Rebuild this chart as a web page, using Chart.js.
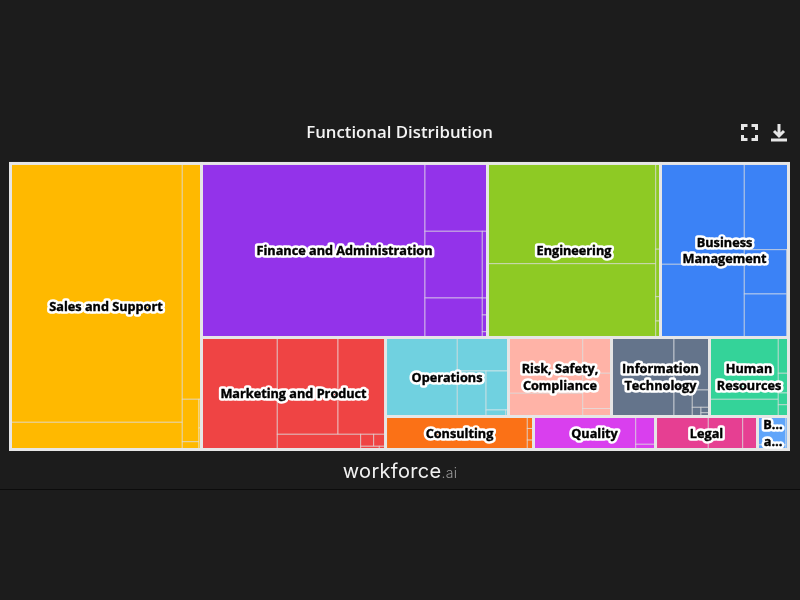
<!DOCTYPE html>
<html>
<head>
<meta charset="utf-8">
<title>Functional Distribution</title>
<script src="https://cdn.jsdelivr.net/npm/chart.js@4"></script>
<style>
	html, body { margin: 0; background: #1c1c1c; }
	#wrap { position: relative; width: 800px; height: 600px; overflow: hidden; }
	#icons { position: absolute; left: 740px; top: 123px; }
	#brand { position: absolute; left: 0; width: 800px; top: 459px; text-align: center; color: #f2f2f2; font: 400 20px Inter, sans-serif; letter-spacing: .3px; }
	#brand span { color: #9a9a9a; font-size: 14px; font-weight: 300; }
	#rule { position: absolute; left: 0; width: 800px; top: 489px; height: 1px; background: #0c0c0c; }
</style>
</head>
<body>
<div id="wrap">
	<canvas id="treeChart" width="800" height="600"></canvas>
	<svg id="icons" width="50" height="20" fill="none" stroke="#e6e6e6" stroke-width="3">
		<path d="M2.5 7V2.5H7.5M11.5 2.5H16.5V7M16.5 12V16.5H11.5M7.5 16.5H2.5V12"/>
		<path d="M39 1V12M34 8L39 13L44 8M31 17H47"/>
	</svg>
	<div id="brand">workforce<span>.ai</span></div>
	<div id="rule"></div>
</div>
<script>
const groupNames = ['Sales and Support', 'Finance and Administration', 'Engineering', 'Business\nManagement', 'Marketing and Product', 'Operations', 'Risk, Safety,\nCompliance', 'Information\nTechnology', 'Human\nResources', 'Consulting', 'Quality', 'Legal', 'B…\na…'];
const groupColors = ['#ffb900', '#9333ea', '#8eca24', '#3b82f6', '#ef4444', '#70d1e0', '#ffb3a7', '#64748b', '#34d399', '#fb7116', '#d93fee', '#e63f92', '#60a5fa'];

const salesValues = [44462, 4673, 4527, 708, 130, 72, 54];
const financeValues = [38889, 4238, 3822, 2263, 347, 88, 87, 30];
const engineeringValues = [16854, 12413, 412, 228, 117, 79];
const businessValues = [8447, 6134, 3810, 1878, 1844, 158];
const marketingValues = [8490, 5876, 4598, 1268, 156, 142, 60, 20];
const operationsValues = [5672, 1715, 1310, 874, 127, 18];
const riskValues = [4140, 1721, 1031, 979, 222, 43];
const itValues = [4938, 1864, 485, 298, 80, 46, 32];
const hrValues = [4252, 1183, 365, 201, 120, 120];
const consultingValues = [4679, 74, 72, 58];
const qualityValues = [3373, 550, 103];
const legalValues = [1742, 1135, 488];
const otherValues = [808, 133, 82];

const groupValues = [salesValues, financeValues, engineeringValues, businessValues, marketingValues, operationsValues, riskValues, itValues, hrValues, consultingValues, qualityValues, legalValues, otherValues];

const total = (arr) => arr.reduce((a, b) => a + b, 0);

// alternating strips: close a strip once adding a value makes the previous cell worse
const squarify = (values, box) => {
	const cells = [];
	let x = box.x, y = box.y, w = box.w, h = box.h;
	const scale = (w * h) / total(values);
	let vertical = true;
	let strip = [];

	const lastCellRatio = (items) => {
		const side = total(items) / (vertical ? h : w);
		const other = items[items.length - 1] / side;
		return Math.max(side / other, other / side);
	};

	const flush = () => {
		const side = total(strip) / (vertical ? h : w);
		let pos = vertical ? y : x;
		strip.forEach(a => {
			const len = a / side;
			cells.push(vertical ? {x: x, y: pos, w: side, h: len} : {x: pos, y: y, w: len, h: side});
			pos += len;
		});
		if (vertical) {
			x += side;
			w -= side;
		} else {
			y += side;
			h -= side;
		}
		vertical = !vertical;
		strip = [];
	};

	values.forEach(v => {
		const area = v * scale;
		if (strip.length) {
			const side = (total(strip) + area) / (vertical ? h : w);
			const other = strip[strip.length - 1] / side;
			if (Math.max(side / other, other / side) > lastCellRatio(strip)) {
				flush();
			}
		}
		strip.push(area);
	});
	flush();
	return cells;
};

class TreeCell extends Chart.Element {
	draw(ctx) {
		ctx.fillStyle = this.color;
		ctx.fillRect(this.x, this.y, this.width, this.height);
		ctx.strokeStyle = 'rgba(235,235,235,0.62)';
		ctx.lineWidth = 1;
		ctx.strokeRect(this.x, this.y, this.width, this.height);
	}
}
TreeCell.id = 'treeCell';
TreeCell.defaults = {};

class TreeController extends Chart.DatasetController {
	update() {
		const meta = this._cachedMeta;
		const xs = meta.xScale, ys = meta.yScale;
		const all = this.chart.data.datasets.map(d => d.data);
		const tops = squarify(all.map(total), {x: xs.min, y: ys.min, w: xs.max - xs.min, h: ys.max - ys.min});
		const box = tops[this.index];
		const leaves = squarify(all[this.index], box);
		const toPx = (c) => {
			const left = xs.getPixelForValue(c.x), top = ys.getPixelForValue(c.y);
			return {x: left, y: top, width: xs.getPixelForValue(c.x + c.w) - left, height: ys.getPixelForValue(c.y + c.h) - top};
		};
		meta.data.forEach((el, i) => {
			Object.assign(el, toPx(leaves[i]), {color: this.getDataset().backgroundColor});
		});
		this.outline = toPx(box);
	}
	draw() {
		super.draw();
		const ctx = this._ctx, r = this.outline, ds = this.getDataset();
		ctx.save();
		ctx.strokeStyle = '#e6e6e6';
		ctx.lineWidth = 3;
		ctx.strokeRect(r.x, r.y, r.width, r.height);
		ctx.font = 'bold 12.7px "Open Sans"';
		ctx.textAlign = 'center';
		ctx.textBaseline = 'middle';
		ctx.lineJoin = 'round';
		const lines = ds.label.split('\n');
		lines.forEach((line, i) => {
			const ty = r.y + r.height / 2 + 1 + (i - (lines.length - 1) / 2) * 16.5;
			ctx.strokeStyle = '#fff';
			ctx.lineWidth = 5.5;
			ctx.strokeText(line, r.x + r.width / 2, ty);
			ctx.strokeStyle = '#000';
			ctx.lineWidth = 0.4;
			ctx.strokeText(line, r.x + r.width / 2, ty);
			ctx.fillStyle = '#000';
			ctx.fillText(line, r.x + r.width / 2, ty);
		});
		ctx.restore();
	}
}
TreeController.id = 'tree';
TreeController.defaults = {dataElementType: 'treeCell', datasetElementType: false};

Chart.register(TreeCell, TreeController);

const ctx = document.getElementById('treeChart').getContext('2d');

new Chart(ctx, {
	type: 'tree',
	data: {
		datasets: groupValues.map((values, i) => ({
			label: groupNames[i],
			data: values,
			backgroundColor: groupColors[i],
			clip: false
		}))
	},
	options: {
		responsive: false,
		animation: false,
		layout: {padding: {left: 10.5, right: 11.5, top: 123, bottom: 150.5}},
		events: [],
		scales: {
			x: {type: 'linear', display: false, min: 0, max: 778},
			y: {type: 'linear', display: false, min: 0, max: 286, reverse: true}
		},
		plugins: {
			legend: {display: false},
			tooltip: {enabled: false},
			title: {
				display: true,
				text: 'Functional Distribution',
				color: '#f4f4f4',
				font: {family: 'Open Sans', size: 16.8, weight: '600', lineHeight: 1.2},
				padding: {top: 0, bottom: 20.3}
			}
		}
	}
});
</script>
</body>
</html>
